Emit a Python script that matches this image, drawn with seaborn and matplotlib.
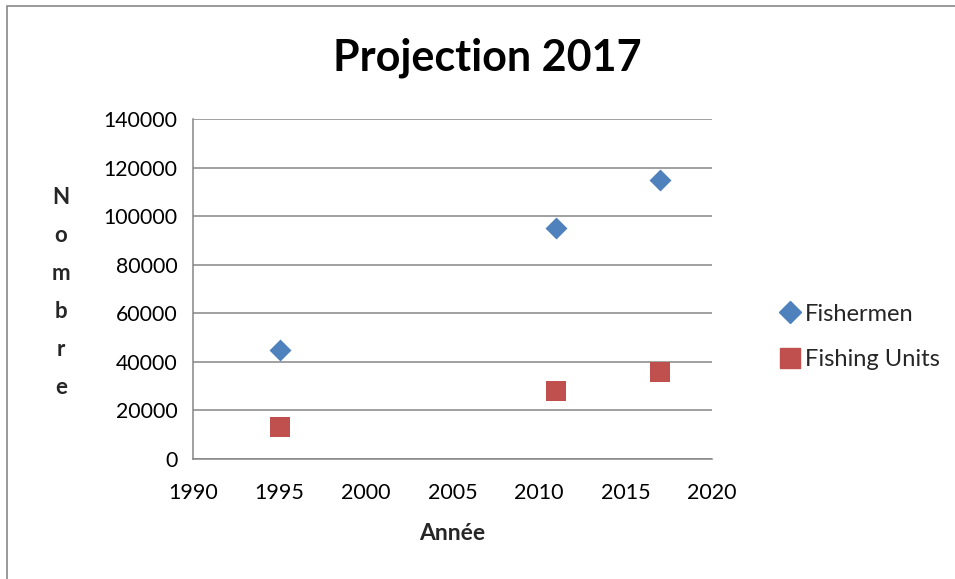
import matplotlib
matplotlib.use("Agg")
import matplotlib.pyplot as plt
import seaborn as sns
import pandas as pd
from matplotlib.patches import Rectangle
from matplotlib.lines import Line2D

years = [1995, 2011, 2017]
fishermen = [45000, 95000, 115000]
fishing_units = [13000, 28000, 36000]
series_names = ["Fishermen", "Fishing Units"]
x_ticks = [1990, 1995, 2000, 2005, 2010, 2015, 2020]
y_ticks = [0, 20000, 40000, 60000, 80000, 100000, 120000, 140000]

df = pd.DataFrame({
    "Année": years * 2,
    "Nombre": fishermen + fishing_units,
    "Série": [series_names[0]] * len(years) + [series_names[1]] * len(years),
})

sns.set_theme(style="white")
plt.rcParams['font.family'] = ['Lato', 'DejaVu Sans']

W, H = 955, 579
fig = plt.figure(figsize=(W / 100, H / 100), dpi=100)
ax = fig.add_axes([193 / W, (H - 459) / H, (712 - 193) / W, (459 - 119) / H])

colors = {"Fishermen": "#4F81BD", "Fishing Units": "#C0504D"}
grid_c = "#868686"

for name, marker, size in [("Fishermen", "D", 125), ("Fishing Units", "s", 200)]:
    sub = df[df["Série"] == name]
    sns.scatterplot(data=sub, x="Année", y="Nombre", color=colors[name],
                    marker=marker, s=size, linewidth=0, ax=ax, legend=False,
                    zorder=3)

ax.set_xlim(1990, 2020)
ax.set_ylim(0, 140000)
ax.set_xticks(x_ticks)
ax.set_yticks(y_ticks)
ax.set_xticklabels([str(v) for v in x_ticks], fontsize=15.5)
ax.set_yticklabels([str(v) for v in y_ticks], fontsize=15.3)
ax.yaxis.grid(True, color=grid_c, linewidth=1.1)
ax.xaxis.grid(False)
for side in ["top", "right"]:
    ax.spines[side].set_visible(False)
for side in ["left", "bottom"]:
    ax.spines[side].set_color(grid_c)
    ax.spines[side].set_linewidth(1.1)
ax.tick_params(axis="both", which="major", direction="out", length=8,
               width=1.1, color=grid_c, pad=3, labelcolor="black")
ax.tick_params(axis="x", pad=9)
ax.set_xlabel("")
ax.set_ylabel("")

fig.text(487 / W, 1 - 58 / H, "Projection 2017", ha="center", va="center",
         fontsize=31, fontweight="bold", color="black")
letter_y = [198, 236, 274, 312, 350, 388]
for ch, yy in zip("Nombre", letter_y):
    fig.text(61 / W, 1 - yy / H, ch, ha="center", va="center",
             fontsize=16, fontweight="bold")
fig.text(452 / W, 1 - 533 / H, "Année", ha="center", va="center",
         fontsize=16.5, fontweight="bold")

handles = [
    Line2D([], [], marker="D", linestyle="", color=colors["Fishermen"], markersize=11),
    Line2D([], [], marker="s", linestyle="", color=colors["Fishing Units"], markersize=14),
]
fig.legend(handles, series_names, loc="center left",
           bbox_to_anchor=(766 / W, 1 - 337 / H), frameon=False, fontsize=17,
           handletextpad=0.05, labelspacing=1.05, handlelength=1.2, borderaxespad=0)

fig.add_artist(Rectangle((7 / W, -0.1), 1.2, 1 - 6 / H + 0.1, transform=fig.transFigure,
                         fill=False, edgecolor="#878787", linewidth=1.2))

fig.savefig("out.png", dpi=100)
